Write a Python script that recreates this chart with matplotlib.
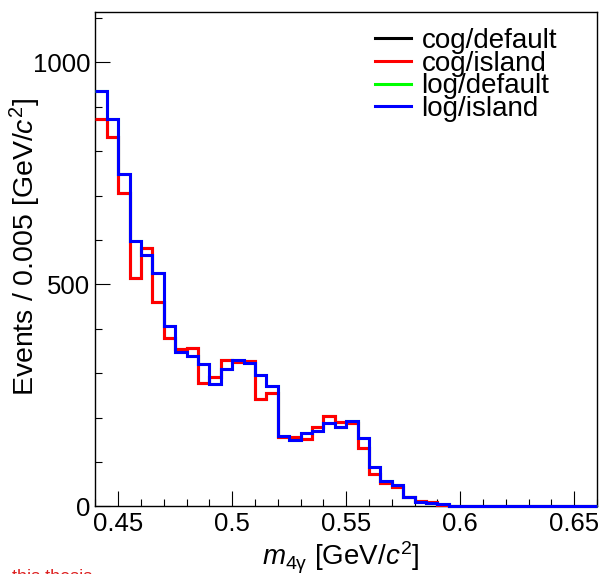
import numpy as np
import matplotlib
matplotlib.use("Agg")
import matplotlib.pyplot as plt
from matplotlib.ticker import MultipleLocator

plt.rcParams['font.family'] = ['Liberation Sans', 'DejaVu Sans']
plt.rcParams['mathtext.fontset'] = 'custom'
plt.rcParams['mathtext.rm'] = 'Liberation Sans'
plt.rcParams['mathtext.it'] = 'Liberation Sans:italic'
plt.rcParams['mathtext.bf'] = 'Liberation Sans:bold'

# binning: 0.44 - 0.66 in steps of 0.005
bin_edges = np.round(np.arange(0.44, 0.66 + 1e-9, 0.005), 4)

# events per bin
cog_island = [872, 832, 705, 514, 583, 461, 379, 354, 356, 279,
              292, 331, 325, 327, 243, 255, 157, 156, 152, 178,
              204, 191, 189, 131, 74, 52, 43, 22, 13, 11,
              3, 1, 0, 0, 0, 0, 0, 0, 0, 0,
              0, 0, 0, 0]
log_island = [936, 872, 749, 599, 566, 526, 406, 347, 339, 320,
              275, 310, 331, 324, 296, 271, 158, 150, 166, 171,
              189, 178, 193, 155, 90, 57, 48, 22, 10, 7,
              5, 1, 0, 0, 0, 0, 0, 0, 0, 0,
              0, 0, 0, 0]
# default clustering lies under the island curves
cog_default = list(cog_island)
log_default = list(log_island)

series = [
    ("cog/default", cog_default, "#000000"),
    ("cog/island", cog_island, "#ff0000"),
    ("log/default", log_default, "#00ff00"),
    ("log/island", log_island, "#0000ff"),
]

fig = plt.figure(figsize=(6.0, 5.74), dpi=100)
ax = fig.add_axes([0.159, 0.1176, 0.836, 0.861])

for label, vals, col in series:
    ax.stairs(vals, bin_edges, color=col, linewidth=2.2, label=label,
              baseline=None, clip_on=False, zorder=3)

ax.set_xlim(0.44, 0.66)
ax.set_ylim(0, 1113)

ax.xaxis.set_minor_locator(MultipleLocator(0.01))
ax.yaxis.set_minor_locator(MultipleLocator(100))
ax.set_xticks([0.45, 0.5, 0.55, 0.6, 0.65])
ax.set_xticklabels(["0.45", "0.5", "0.55", "0.6", "0.65"])
ax.set_yticks([0, 500, 1000])
ax.set_yticklabels(["0", "500", "1000"])

ax.tick_params(which='both', direction='in', top=False, right=False,
               labelsize=18.5, width=0.8)
ax.tick_params(which='major', length=10.5)
ax.tick_params(which='minor', length=5.2)
ax.tick_params(axis='y', pad=3.5)
ax.tick_params(axis='x', pad=4)
for sp in ax.spines.values():
    sp.set_linewidth(1.0)

ax.set_xlabel(r"$m_{\mathrm{4\gamma}}$ [GeV/$c^{2}$]", fontsize=20)
ax.set_ylabel(r"Events / 0.005 [GeV/$c^{2}$]", fontsize=20.5)
ax.xaxis.set_label_coords(0.49, -0.068)
ax.yaxis.set_label_coords(-0.105, 0.525)

ax.legend(loc='upper left', bbox_to_anchor=(0.557, 0.968), frameon=False,
          fontsize=20, handlelength=1.3, handletextpad=0.38,
          labelspacing=-0.12, borderpad=0, borderaxespad=0)

fig.text(0.02, -0.0145, "this thesis", color="#dd2222", fontsize=13,
         va='baseline', ha='left')

fig.savefig("out.png", dpi=100)
